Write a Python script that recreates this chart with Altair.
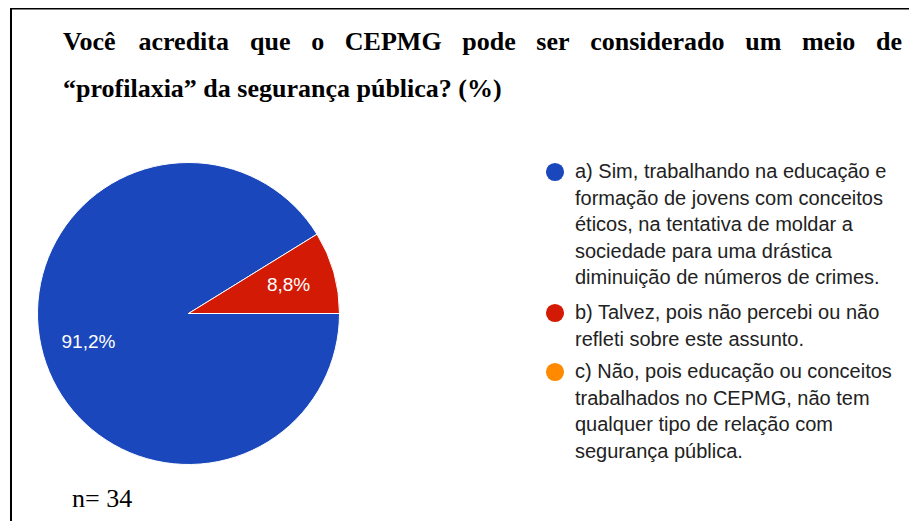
import math
import altair as alt
import pandas as pd

# ---------------- data ----------------
categories = [
    "a) Sim, trabalhando na educação e formação de jovens com conceitos éticos, na tentativa de moldar a sociedade para uma drástica diminuição de números de crimes.",
    "b) Talvez, pois não percebi ou não refleti sobre este assunto.",
    "c) Não, pois educação ou conceitos trabalhados no CEPMG, não tem qualquer tipo de relação com segurança pública.",
]
values = [91.2, 8.8, 0.0]
colors = ["#1a47bc", "#d21a04", "#ff8a00"]

legend_lines = [
    ["a) Sim, trabalhando na educação e", "formação de jovens com conceitos",
     "éticos, na tentativa de moldar a", "sociedade para uma drástica",
     "diminuição de números de crimes."],
    ["b) Talvez, pois não percebi ou não", "refleti sobre este assunto."],
    ["c) Não, pois educação ou conceitos", "trabalhados no CEPMG, não tem",
     "qualquer tipo de relação com", "segurança pública."],
]

title_line1 = ["Você", "acredita", "que", "o", "CEPMG", "pode", "ser",
               "considerado", "um", "meio", "de"]
title_line2 = "“profilaxia” da segurança pública? (%)"
note_text = "n= 34"

# ---------------- layout (pixels in chart space) ----------------
W, H = 901, 513
TITLE_SIZE = 26
cx, cy, R = 180.5, 305.5, 151
legend_item_y = [164, 305, 364]
line_pitch = 26.5
legend_text_x = 567
legend_dot_x = 547

# justify title line 1 between x0 and x1 using Times-Bold advance widths (em)
_tb = {"V": .722, "o": .5, "c": .444, "ê": .444, "a": .5, "r": .444, "e": .444,
       "d": .556, "i": .278, "t": .333, "q": .556, "u": .556, "C": .722,
       "E": .667, "P": .611, "M": .944, "G": .778, "p": .556, "s": .389,
       "n": .556, "m": .833}
x0, x1 = 55, 894
widths = [sum(_tb.get(ch, .5) for ch in w) * TITLE_SIZE for w in title_line1]
gap = (x1 - x0 - sum(widths)) / (len(title_line1) - 1)
title1_x = []
pos = x0
for w in widths:
    title1_x.append(pos)
    pos += w + gap

pie_df = pd.DataFrame({
    "category": categories,
    "value": values,
    "order": list(range(len(categories))),
    "label": [f"{v:.1f}".replace(".", ",") + "%" for v in values],
})

theta_enc = alt.Theta("value:Q", stack=True,
                      scale=alt.Scale(range=[math.pi / 2, math.pi / 2 + 2 * math.pi]))
color_enc = alt.Color("category:N", scale=alt.Scale(domain=categories, range=colors),
                      legend=None)

pie = alt.Chart(pie_df).mark_arc(radius=R, stroke="white", strokeWidth=1).encode(
    theta=theta_enc,
    color=color_enc,
    order=alt.Order("order:Q"),
    x=alt.value(cx),
    y=alt.value(cy),
)

pie_labels = alt.Chart(pie_df).transform_filter("datum.value > 0").mark_text(
    radius=104, font="Liberation Sans", fontSize=19, color="white"
).encode(
    theta=theta_enc,
    order=alt.Order("order:Q"),
    text="label:N",
    x=alt.value(cx),
    y=alt.value(cy),
)

# title words (justified line 1)
t1_df = pd.DataFrame({"word": title_line1, "px": title1_x})
title1 = alt.Chart(t1_df).mark_text(
    font="Liberation Serif", fontSize=TITLE_SIZE, fontWeight="bold", align="left",
    baseline="alphabetic", color="black"
).encode(x=alt.X("px:Q", scale=None), y=alt.value(42), text="word:N")

title2 = alt.Chart(pd.DataFrame({"t": [title_line2]})).mark_text(
    font="Liberation Serif", fontSize=TITLE_SIZE, fontWeight="bold", align="left",
    baseline="alphabetic", color="black"
).encode(x=alt.value(55), y=alt.value(89), text="t:N")

note = alt.Chart(pd.DataFrame({"t": [note_text]})).mark_text(
    font="Liberation Serif", fontSize=26, align="left", baseline="alphabetic",
    color="black"
).encode(x=alt.value(64), y=alt.value(499), text="t:N")

# legend
rows = []
for i, lines in enumerate(legend_lines):
    for j, ln in enumerate(lines):
        rows.append({"text": ln, "py": legend_item_y[i] + j * line_pitch})
leg_text_df = pd.DataFrame(rows)
leg_dot_df = pd.DataFrame({"category": categories, "py": legend_item_y})

legend_text = alt.Chart(leg_text_df).mark_text(
    font="Liberation Sans", fontSize=20, align="left", baseline="middle",
    color="#222222"
).encode(x=alt.value(legend_text_x), y=alt.Y("py:Q", scale=None), text="text:N")

legend_dots = alt.Chart(leg_dot_df).mark_point(
    shape="circle", filled=True, size=330, opacity=1
).encode(
    x=alt.value(legend_dot_x),
    y=alt.Y("py:Q", scale=None),
    color=color_enc,
)

# frame lines
one = pd.DataFrame({"a": [0]})
left_line = alt.Chart(one).mark_rule(color="black", strokeWidth=2).encode(
    x=alt.value(3), y=alt.value(0), y2=alt.value(H))
top_line = alt.Chart(one).mark_rule(color="black", strokeWidth=2).encode(
    x=alt.value(3), x2=alt.value(W), y=alt.value(0.5))

chart = alt.layer(
    pie, pie_labels, title1, title2, note, legend_dots, legend_text, left_line, top_line
).resolve_scale(color="shared").properties(
    width=W, height=H, padding=0,
    autosize=alt.AutoSizeParams(type="none"),
    background="white",
).configure_view(stroke=None)

chart.save("out.html", embed_options={"renderer": "svg", "actions": False})
